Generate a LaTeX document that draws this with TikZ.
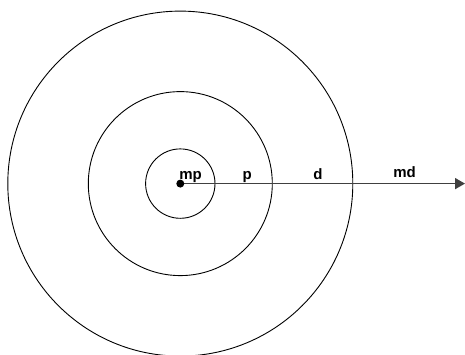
\documentclass[tikz,border=0pt]{standalone}
\usepackage{fontspec}
\setmainfont{Liberation Sans}
\usetikzlibrary{arrows.meta}
\begin{document}
\begin{tikzpicture}[x=1pt,y=-1pt,
  ring/.style={draw=black,line width=0.9pt,circle,inner sep=0pt,fill=none},
  lbl/.style={font=\fontsize{15}{17}\selectfont\bfseries,anchor=base,inner sep=0pt}]
\useasboundingbox (0,0) rectangle (465,354);
\coordinate (c) at (180.3,183.6);
\node[ring,minimum size=345pt] (outer) at (c) {};
\node[ring,minimum size=184pt] (middle) at (c) {};
\node[ring,minimum size=69.4pt] (inner) at (c) {};
\coordinate (tip) at (465,183.6);
\draw[line width=1.6pt,color=black!75,-{Triangle[length=10pt,width=11pt]}] (c) -- (tip);
\node[circle,fill=black,minimum size=8pt,inner sep=0pt] (dot) at (c) {};
\node[lbl] (mp) at (190.5,179.8) {mp};
\node[lbl] (p) at (247.3,179.8) {p};
\node[lbl] (d) at (318,179.5) {d};
\node[lbl] (md) at (404.5,177) {md};
\end{tikzpicture}
\end{document}
